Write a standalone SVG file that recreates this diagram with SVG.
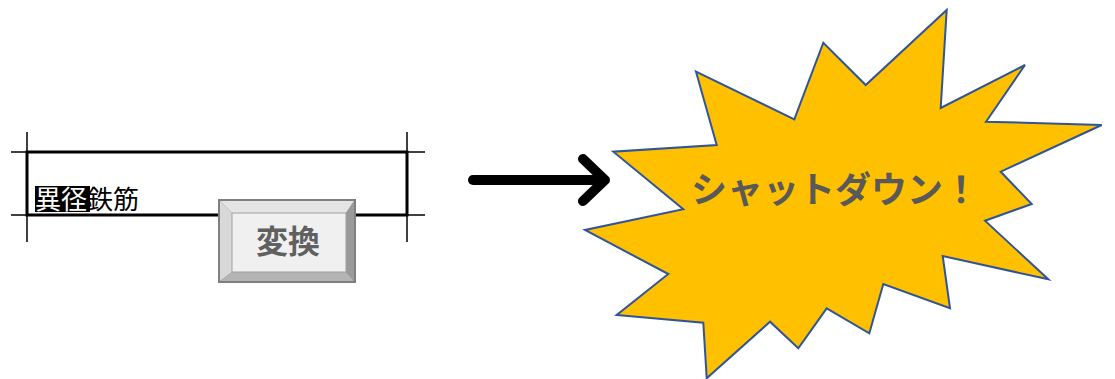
<svg xmlns="http://www.w3.org/2000/svg" width="1115" height="379" viewBox="0 0 1115 379">
<style>
.thin{stroke:#000;stroke-width:1.5;fill:none}
.thick{stroke:#000;stroke-width:3;fill:none}
.jp{font-family:"Noto Sans CJK JP","Noto Sans CJK SC",sans-serif}
</style>
<rect width="1115" height="379" fill="#fff"/>
<g id="field">
<line class="thin" x1="11" y1="152" x2="425" y2="152"/>
<line class="thin" x1="11" y1="215" x2="425" y2="215"/>
<line class="thin" x1="27" y1="132" x2="27" y2="242"/>
<line class="thin" x1="407" y1="132" x2="407" y2="242"/>
<rect class="thick" x="27" y="152" width="380" height="63"/>
<rect x="35" y="186" width="55" height="26" fill="#000"/>
<text class="jp" x="35" y="209" font-size="26" fill="#000"><tspan fill="#fff">異径</tspan>鉄筋</text>
</g>
<g id="button">
<rect x="218" y="199" width="138" height="84" fill="#808080"/>
<polygon points="220,201 354,201 346,213 232,213" fill="#e4e4e4"/>
<polygon points="220,201 232,213 232,272 220,281" fill="#d8d8d8"/>
<polygon points="354,201 354,281 346,272 346,213" fill="#9a9a9a"/>
<polygon points="220,281 232,272 346,272 354,281" fill="#b4b4b4"/>
<rect x="232" y="213" width="114" height="59" fill="#f0f0f0" stroke="#a0a0a0" stroke-width="1"/>
<text class="jp" x="288" y="253" font-size="32" font-weight="bold" fill="#606060" text-anchor="middle">変換</text>
</g>
<g id="connectors">
<line x1="473" y1="180" x2="604" y2="180" stroke="#000" stroke-width="10" stroke-linecap="round"/>
<polyline points="583,159 605,180 583,201" fill="none" stroke="#000" stroke-width="10" stroke-linecap="round" stroke-linejoin="round"/>
</g>
<g id="burst">
<polygon points="946.7,10 940.7,108 1025,65 986,121.7 1101.7,125 1000.7,171.7 1031.7,204 985,220.7 1048.3,279.3 942.7,256 950,308.3 883.3,284 869.3,333.3 826.7,308.3 798.3,348.3 770,321.7 706.7,378.3 703.3,322.7 616.7,315 668.3,274 585,230 683.3,209.3 613.3,151.7 716.7,145 696,71.7 794.3,119.3 823.3,42.7 865.7,85" fill="#FFC000" stroke="#2F5597" stroke-width="2" stroke-linejoin="miter"/>
<text class="jp" x="691" y="203" font-size="36" font-weight="bold" fill="#595959">シャットダウン！</text>
</g>
</svg>
